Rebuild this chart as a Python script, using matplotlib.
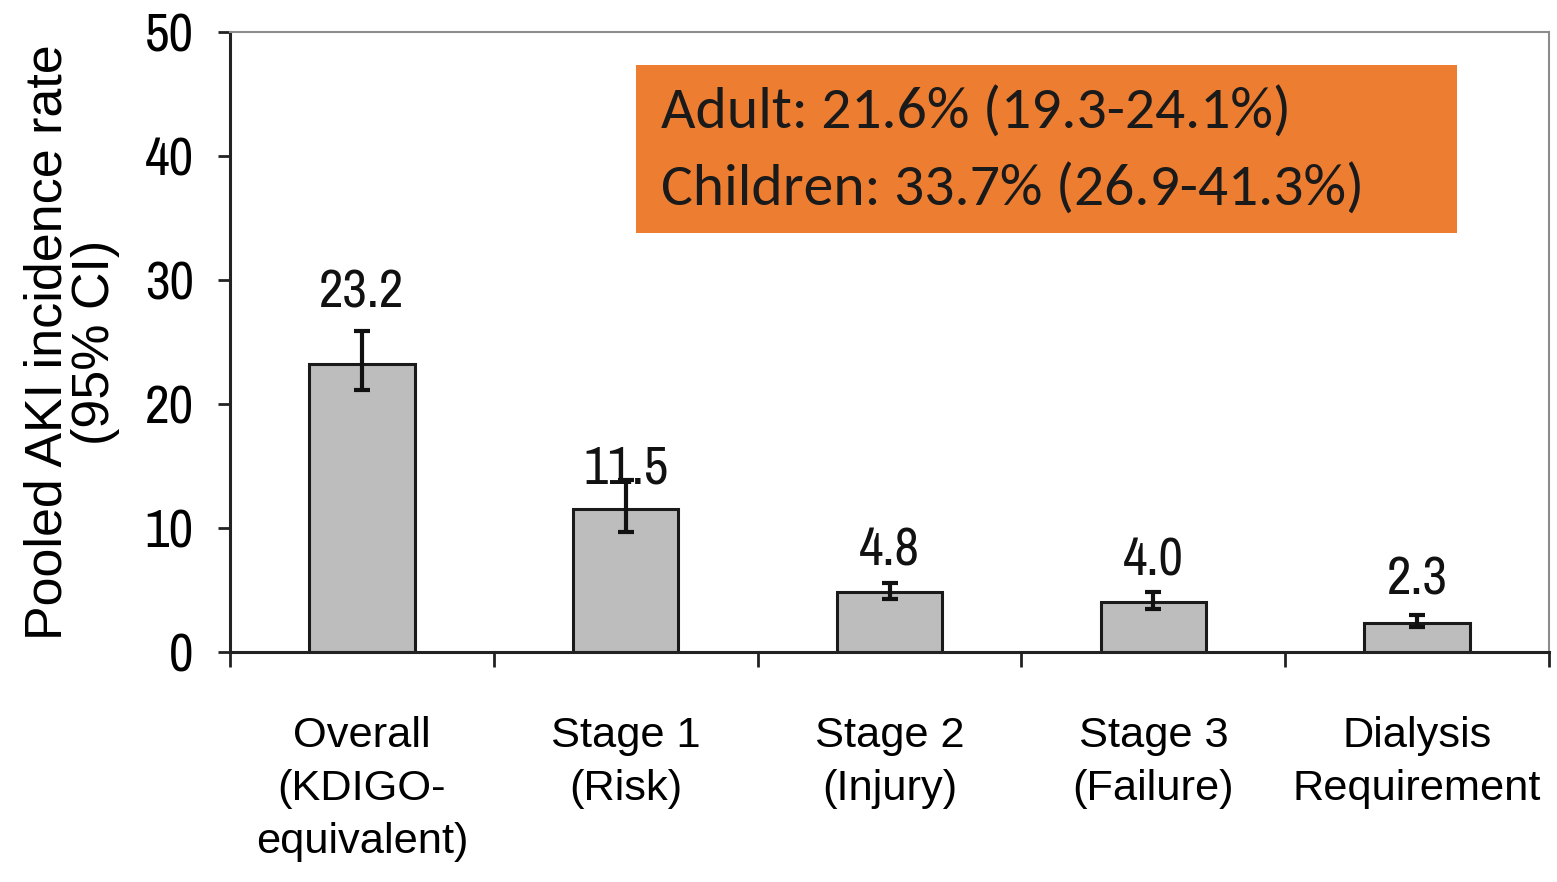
import matplotlib
matplotlib.use("Agg")
import matplotlib.pyplot as plt
from matplotlib.patches import Rectangle
from matplotlib import font_manager
import numpy as np

categories = ["Overall\n(KDIGO-\nequivalent)", "Stage 1\n(Risk)", "Stage 2\n(Injury)",
              "Stage 3\n(Failure)", "Dialysis\nRequirement"]
values = [23.2, 11.5, 4.8, 4.0, 2.3]
ci_low = [21.1, 9.7, 4.3, 3.5, 2.0]
ci_high = [25.9, 13.9, 5.6, 4.8, 3.0]
yticks = [0, 10, 20, 30, 40, 50]
box_lines = ["Adult: 21.6% (19.3-24.1%)", "Children: 33.7% (26.9-41.3%)"]

# style: value-label offsets above bar top (data units)
label_offsets = [4.6, 2.1, 2.2, 2.2, 2.3]

names = {f.name for f in font_manager.fontManager.ttflist}
def pick(cands, fallback):
    for c in cands:
        if c in names:
            return [c, fallback, "DejaVu Sans"]
    return [fallback, "DejaVu Sans"]

NARROW = pick(["Liberation Sans Narrow", "Arial Narrow", "Nimbus Sans Narrow",
               "Archivo Narrow", "Roboto Condensed", "PT Sans Narrow"], "Liberation Sans")
REG = ["Liberation Sans", "Arimo", "DejaVu Sans"]
BOX = pick(["Carlito", "Calibri"], "Lato")

plt.rcParams['font.family'] = REG

fig = plt.figure(figsize=(15.57, 8.82), dpi=100)
renderer = fig.canvas.get_renderer()

def fit_size(s, fam, target_px, base=30.0):
    t = fig.text(0, 0, s, fontsize=base, family=fam)
    bb = t.get_window_extent(renderer=renderer)
    t.remove()
    return base * target_px / bb.width

fs_val = fit_size("23.2", NARROW, 85)
fs_ytick = fit_size("40", NARROW, 49)
fs_xcat = fit_size("Requirement", REG, 248)
fs_ylab = fit_size("Pooled AKI incidence rate", REG, 595)
fs_box = fit_size(box_lines[0], BOX, 630)

ax = fig.add_axes([0.1477, 0.2608, 0.8472, 0.7029])

x = np.arange(len(values))
yerr = [np.array(values) - np.array(ci_low), np.array(ci_high) - np.array(values)]
ax.bar(x, values, width=0.4, color="#bdbdbd", edgecolor="#1a1a1a", linewidth=2.2, zorder=2)
ax.errorbar(x, values, yerr=yerr, fmt="none", ecolor="#111111", elinewidth=3,
            capsize=5.5, capthick=3, zorder=3)

for xi, v, off in zip(x, values, label_offsets):
    ax.text(xi, v + off, f"{v:.1f}", ha="center", va="baseline", fontsize=fs_val,
            family=NARROW, color="#111111", zorder=4)

ax.set_xlim(-0.5, len(values) - 0.5)
ax.set_ylim(0, 50)
ax.set_yticks(yticks)
ax.set_yticklabels([str(t) for t in yticks], fontsize=fs_ytick, family=NARROW)
ax.set_xticks(np.arange(len(values) + 1) - 0.5)
ax.set_xticklabels([])
ax.set_xticks(x, minor=True)
ax.set_xticklabels(categories, minor=True, fontsize=fs_xcat, family=REG, linespacing=1.42)
ax.tick_params(axis="x", which="minor", length=0, pad=46)
ax.tick_params(axis="x", which="major", length=11, width=2, direction="out", color="#222222")
ax.tick_params(axis="y", length=9, width=2, direction="out", color="#222222", pad=17)

for s in ["left", "bottom"]:
    ax.spines[s].set_color("#222222")
    ax.spines[s].set_linewidth(2.2)
for s in ["top", "right"]:
    ax.spines[s].set_color("#8c8c8c")
    ax.spines[s].set_linewidth(1.5)

ax.set_ylabel("Pooled AKI incidence rate\n(95% CI)", fontsize=fs_ylab, labelpad=18,
              linespacing=0.95, family=REG)

ax.add_patch(Rectangle((1.04, 33.8), 3.11, 13.5, facecolor="#ED7D31", edgecolor="none", zorder=1))
ax.text(1.135, 43.5, box_lines[0], fontsize=fs_box, family=BOX,
        va="center", ha="left", color="#1a1a1a", zorder=4)
ax.text(1.135, 37.3, box_lines[1], fontsize=fs_box, family=BOX,
        va="center", ha="left", color="#1a1a1a", zorder=4)

fig.savefig("out.png", dpi=100)
